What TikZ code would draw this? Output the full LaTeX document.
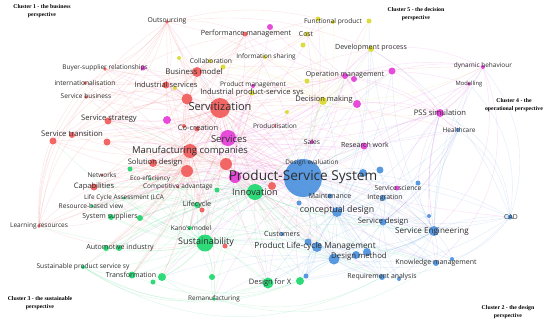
\documentclass[tikz,border=0pt]{standalone}
\usepackage{fontspec}
\setmainfont{Open Sans}
\newfontfamily\ttlfont{Liberation Serif}
\pgfdeclarelayer{paper}
\pgfdeclarelayer{edgelayer}
\pgfsetlayers{paper,edgelayer,main}
\definecolor{cR}{RGB}{242,90,90}
\definecolor{cB}{RGB}{75,145,222}
\definecolor{cG}{RGB}{30,215,110}
\definecolor{cY}{RGB}{218,218,45}
\definecolor{cM}{RGB}{228,60,215}
\definecolor{txt}{RGB}{45,45,45}
\newcommand{\vn}[5]{\node[vnode,fill=#5,minimum size={2*#4pt}] (#1) at (#2,#3) {};}
\newcommand{\lb}[5]{\node[lbl,font=\fontsize{#4}{#4}\selectfont] (#1) at (#2,#3) {#5};}
\tikzset{
  vnode/.style={circle,inner sep=0pt,draw=none,fill opacity=0.92},
  lbl/.style={inner sep=0pt,text=txt,anchor=center},
  ttl/.style={inner sep=0pt,align=center,text=black,font=\ttlfont\bfseries\fontsize{5.8}{8}\selectfont},
  ew/.style={line width=0.4pt,draw opacity=0.17},
  eR/.style={ew,draw=cR},
  eB/.style={ew,draw=cB},
  eG/.style={ew,draw=cG},
  eY/.style={ew,draw=cY},
  eM/.style={ew,draw=cM},
}
\begin{document}
\begin{tikzpicture}[x=1pt,y=-1pt]
\begin{pgfonlayer}{paper}
\fill[white] (0,0) rectangle (550,325);
\end{pgfonlayer}
\useasboundingbox (0,0) rectangle (550,325);
% ---------------- red cluster
\vn{outs}{167}{22}{1.8}{cR}
\vn{perf}{245}{34}{2.5}{cR}
\vn{bsr}{105}{69}{1.8}{cR}
\vn{bm}{197}{72}{5}{cR}
\vn{intl}{85}{83}{1.8}{cR}
\vn{inds}{166}{85}{3.5}{cR}
\vn{sb}{86}{97}{1.8}{cR}
\vn{ra}{187}{99}{5.5}{cR}
\vn{servit}{220}{108}{10}{cR}
\vn{ss}{108}{121}{3.5}{cR}
\vn{cocr}{197}{129}{2.5}{cR}
\vn{rb}{184}{126}{2}{cR}
\vn{sta}{53}{141}{3.5}{cR}
\vn{stb}{72}{135}{3}{cR}
\vn{stc}{107}{142}{3.5}{cR}
\vn{manu}{190}{151}{7}{cR}
\vn{sold}{153}{163}{4}{cR}
\vn{rc}{226}{164}{6}{cR}
\vn{rd}{187}{171}{6}{cR}
\vn{cap}{94}{187}{3.5}{cR}
\vn{comp}{178}{187}{1.5}{cR}
\vn{re}{272}{186}{4}{cR}
\vn{lr}{39}{226}{1.8}{cR}
\vn{rf}{202}{210}{2.5}{cR}
\vn{rg}{225}{246}{2.5}{cR}
\vn{prod}{275}{126}{1.5}{cR}
\vn{netw}{102}{175}{1.5}{cR}
% ---------------- magenta cluster
\vn{ma}{270}{27}{3}{cM}
\vn{mb}{143}{68}{2.5}{cM}
\vn{pm}{253}{86}{2}{cM}
\vn{mc}{167}{120}{4}{cM}
\vn{serv}{228}{138}{8}{cM}
\vn{md}{235}{177}{6}{cM}
\vn{oma}{345}{76}{3}{cM}
\vn{omb}{354}{79}{3}{cM}
\vn{omc}{392}{71}{3.5}{cM}
\vn{me}{357}{104}{4}{cM}
\vn{dyn}{483}{67}{2}{cM}
\vn{mod}{469}{84}{1.8}{cM}
\vn{psim}{440}{113}{4}{cM}
\vn{sales}{312}{142}{2}{cM}
\vn{rw}{364}{146}{3.5}{cM}
\vn{sci}{397}{188}{2.5}{cM}
% ---------------- yellow cluster
\vn{fpa}{318}{19}{2.5}{cY}
\vn{fpb}{333}{22}{2}{cY}
\vn{fpc}{369}{21}{2.5}{cY}
\vn{cost}{307}{34}{2.5}{cY}
\vn{ya}{303}{45}{2.5}{cY}
\vn{dev}{371}{49}{3}{cY}
\vn{cola}{179}{58}{2}{cY}
\vn{colb}{210}{61}{2}{cY}
\vn{colc}{223}{67}{2.5}{cY}
\vn{info}{265}{57}{2}{cY}
\vn{ipss}{252}{93}{2.5}{cY}
\vn{yb}{175}{88}{2}{cY}
\vn{yc}{307}{81}{2.5}{cY}
\vn{decm}{323}{101}{4}{cY}
\vn{yd}{287}{112}{2}{cY}
\vn{ye}{310}{163}{1.5}{cY}
% ---------------- blue cluster
\vn{pss}{303}{178}{19}{cB}
\vn{ba}{363}{173}{4}{cB}
\vn{bb}{380}{170}{3.5}{cB}
\vn{bc}{418}{183}{2.5}{cB}
\vn{maint}{330}{196}{2.5}{cB}
\vn{integ}{383}{198}{3}{cB}
\vn{bd}{299}{203}{2.5}{cB}
\vn{cd}{337}{212}{5}{cB}
\vn{sd}{383}{222}{3.5}{cB}
\vn{be}{429}{216}{2}{cB}
\vn{se}{434}{231}{5}{cB}
\vn{hc}{458}{130}{2}{cB}
\vn{cad}{510}{217}{2.5}{cB}
\vn{cust}{282}{234}{2}{cB}
\vn{plm}{317}{247}{5}{cB}
\vn{bf}{308}{242}{3.5}{cB}
\vn{dmt}{334}{259}{5.5}{cB}
\vn{dmb}{356}{255}{4}{cB}
\vn{dmc}{367}{252}{4}{cB}
\vn{km}{436}{263}{3}{cB}
\vn{bgx}{452}{259}{2}{cB}
\vn{req}{382}{277}{3}{cB}
\vn{bh}{399}{279}{2}{cB}
\vn{bi}{306}{276}{2.5}{cB}
% ---------------- green cluster
\vn{innov}{255}{192}{8}{cG}
\vn{ga}{217}{190}{2.5}{cG}
\vn{gb}{130}{169}{2.5}{cG}
\vn{eco}{150}{179}{1.5}{cG}
\vn{lca}{124}{198}{1.5}{cG}
\vn{rbv}{92}{206}{1.8}{cG}
\vn{life}{197}{205}{3}{cG}
\vn{sysa}{111}{217}{3}{cG}
\vn{sysb}{140}{218}{3}{cG}
\vn{kano}{190}{228}{2}{cG}
\vn{sust}{205}{243}{8.5}{cG}
\vn{auta}{106}{248}{3}{cG}
\vn{autb}{119}{248}{3}{cG}
\vn{spss}{83}{267}{2}{cG}
\vn{tra}{132}{275}{3.5}{cG}
\vn{trb}{162}{277}{4}{cG}
\vn{trc}{153}{282}{2.5}{cG}
\vn{gc}{212}{277}{3}{cG}
\vn{rem}{214}{299}{1.8}{cG}
\vn{dfx}{268}{283}{5.5}{cG}
\vn{gd}{300}{281}{4}{cG}
% ---------------- edges
\begin{pgfonlayer}{edgelayer}
\foreach \t in {cd,plm,dmt,dmb,dmc,se,sd,integ,maint,cust,ba,bb,bc,sci,rw,sales,km,req,bh,cad,bi,bd,bf,hc,psim,omc,decm,dev,be,bgx}
  \draw[eB] (pss) to[bend left=10] (\t);
\foreach \t in {innov,sust,dfx,gd,servit,serv,manu,rc,rd,bm,inds,ipss,cost,fpa,life,kano,lca,rbv,sold,cap,stc,ss,perf,mod,dyn,trb,rem,autb,sysb,eco,comp,oma,me,md,re}
  \draw[eM] (pss) to[bend right=9] (\t);
\foreach \t in {bm,inds,intl,sb,bsr,outs,perf,ss,sta,stb,stc,manu,sold,cap,cocr,ra,rb,rc,rd,serv,prod,ipss,cola,colc,info,pm,oma,decm,sales,rw,innov,sust,life,lr,netw,comp,lca,rbv,sysa,auta,tra,cd,plm,dmt,se,psim,dyn,fpb,cost,dev,hc,mc,md,re}
  \draw[eR] (servit) to[bend left=9] (\t);
\foreach \t in {bm,inds,perf,ma,pm,oma,omb,omc,decm,psim,dyn,mod,sales,rw,sci,cd,se,sd,plm,manu,innov,sust,ss,stb,cap,sold,bsr,mb,intl,outs,dev,fpa,km,req,dfx,cad,hc,life,kano,md,mc}
  \draw[eM] (serv) to[bend right=10] (\t);
\foreach \t in {bm,inds,intl,sb,bsr,outs,ss,sta,stb,stc,sold,cap,netw,comp,eco,lca,rbv,lr,sysa,sysb,auta,autb,spss,tra,trb,innov,sust,life,kano,rc,rd,cd,plm,dmt,se,dfx,rem,perf,decm,oma,rw,cust,gb,ra}
  \draw[eR] (manu) to[bend left=11] (\t);
\foreach \t in {sust,life,kano,dfx,gd,rem,tra,trb,trc,gc,auta,autb,sysa,sysb,spss,rbv,lca,eco,comp,cap,sold,cd,plm,dmt,dmb,se,sd,maint,cust,bi,req,km,decm,rw,sales,oma,bm,ss,gb,ga,md,re}
  \draw[eG] (innov) to[bend right=10] (\t);
\foreach \t in {life,kano,tra,trb,trc,gc,rem,dfx,gd,auta,autb,sysa,sysb,spss,rbv,lca,eco,gb,comp,cap,cust,plm,dmt,req,km,cd,se,lr,sta,netw,ga,rf,rg}
  \draw[eG] (sust) to[bend left=10] (\t);
\foreach \t in {plm,dmt,dmb,dmc,se,sd,integ,maint,km,req,bh,cad,be,ba,bb,bc,sci,rw,psim,hc,dfx,gd,bi,cust,decm,omc,dev,fpc,sales,re,bf}
  \draw[eB] (cd) to[bend right=10] (\t);
\foreach \t in {sd,km,bgx,req,bh,cad,be,hc,psim,bc,sci,integ,dmt,dmb,dmc,plm,dfx,gd,rw,dyn,mod,omc,dev}
  \draw[eB] (se) to[bend left=12] (\t);
\foreach \t in {outs,perf,ma,bsr,mb,intl,sb,inds,cola,colb,colc,info,pm,ipss,cost,fpa,yb,ss,stb,ra,mc,oma,decm}
  \draw[eR] (bm) to[bend left=10] (\t);
\foreach \t in {cost,ya,fpa,fpb,fpc,dev,info,colb,colc,ipss,pm,yc,oma,omb,omc,me,yd,sales,rw,psim,dyn,prod,ye}
  \draw[eY] (decm) to[bend right=12] (\t);
\foreach \t in {omb,omc,me,dev,psim,dyn,mod,rw,sales,sci,hc,ma,perf,yc,cost,fpc,pm}
  \draw[eM] (oma) to[bend left=12] (\t);
\foreach \t in {dyn,mod,hc,me,omc,rw,sci,bc,se,km,dev}
  \draw[eM] (psim) to[bend right=12] (\t);
\foreach \t in {dmt,dmb,dmc,cust,bf,bi,req,km,gd,dfx,sd}
  \draw[eB] (plm) to[bend left=12] (\t);
\foreach \t in {intl,sb,bsr,ss,sta,stb,ra,inds,perf,fpb,dev,decm}
  \draw[eR] (outs) to[bend left=14] (\t);
% extra hubs for the dense haze
\foreach \t in {ss,stb,stc,sold,cap,netw,comp,eco,lca,life,kano,innov,sust,md,re,cd,plm,cust,bm,inds,cocr,prod,sales,rw,decm,ipss,pm,gb,ga,rf}
  \draw[eR] (rc) to[bend right=12] (\t);
\foreach \t in {ss,sta,stc,sold,cap,netw,comp,eco,lca,rbv,life,kano,sust,sysa,sysb,auta,tra,trb,gb,innov,bm,inds,ra,cocr,rf}
  \draw[eR] (rd) to[bend left=12] (\t);
\foreach \t in {intl,sb,bsr,ss,stb,inds,bm,cola,yb,mb,mc,cocr,rb,pm,ipss,colc,perf}
  \draw[eR] (ra) to[bend right=12] (\t);
\foreach \t in {sales,prod,rw,decm,me,re,ga,life,kano,cust,cd,maint,bd,plm,sust,dfx,ipss,pm,rc,ye}
  \draw[eM] (md) to[bend left=12] (\t);
\foreach \t in {req,km,bh,bi,gd,dfx,cust,bf,dmb,dmc,sd,integ,maint,bd,sust,trb,gc,kano,rem}
  \draw[eB] (dmt) to[bend right=12] (\t);
\foreach \t in {kano,rf,ga,comp,eco,lca,rbv,sysa,sysb,autb,tra,gc,dfx,cust,bd,sold,cap}
  \draw[eG] (life) to[bend right=12] (\t);
\foreach \t in {integ,sci,ba,bb,bc,be,km,bgx,req,bh,hc,maint,dmc,psim}
  \draw[eB] (sd) to[bend right=12] (\t);
% long arcs
\draw[eB] (cad) to[bend right=30] (psim);
\draw[eB] (cad) to[bend right=22] (hc);
\draw[eB] (cad) to[bend right=28] (dyn);
\draw[eB] (cad) to[bend right=25] (mod);
\draw[eB] (cad) to[bend right=18] (dev);
\draw[eB] (cad) to[bend right=10] (bc);
\draw[eB] (cad) to[bend left=20] (km);
\draw[eB] (cad) to[bend left=22] (req);
\draw[eB] (cad) to[bend left=20] (dmt);
\draw[eB] (cad) to[bend left=12] (sd);
\draw[eM] (dyn) to[bend left=30] (se);
\draw[eM] (dyn) to[bend left=35] (km);
\draw[eM] (dyn) to[bend right=15] (dev);
\draw[eM] (dyn) to[bend right=10] (omc);
\draw[eM] (mod) to[bend left=20] (sd);
\draw[eB] (hc) to[bend left=20] (sd);
\draw[eB] (hc) to[bend left=15] (integ);
\draw[eR] (lr) to[bend left=14] (ss);
\draw[eR] (lr) to[bend left=10] (sta);
\draw[eR] (lr) to[bend left=12] (stb);
\draw[eR] (lr) to[bend left=18] (sb);
\draw[eR] (lr) to[bend left=20] (intl);
\draw[eR] (lr) to[bend left=22] (bsr);
\draw[eR] (lr) to[bend left=24] (outs);
\draw[eR] (lr) to[bend left=8] (cap);
\draw[eR] (lr) to[bend right=10] (sysa);
\draw[eR] (lr) to[bend right=10] (rbv);
\draw[eR] (lr) to[bend right=15] (sust);
\draw[eG] (spss) to[bend right=20] (rem);
\draw[eG] (spss) to[bend right=25] (dfx);
\draw[eG] (spss) to[bend right=25] (gd);
\draw[eG] (spss) to[bend right=30] (req);
\draw[eG] (spss) to[bend right=10] (tra);
\draw[eG] (tra) to[bend right=20] (dfx);
\draw[eG] (trb) to[bend right=20] (gd);
\draw[eG] (rem) to[bend right=20] (req);
\draw[eG] (rem) to[bend right=25] (km);
\draw[eG] (rem) to[bend right=15] (dmt);
\draw[eG] (rem) to[bend left=10] (gc);
\draw[eG] (rem) to[bend left=15] (trb);
\draw[eR] (sta) to[bend left=20] (perf);
\draw[eR] (stb) to[bend left=15] (bm);
\draw[eR] (ss) to[bend left=10] (inds);
\draw[eR] (cap) to[bend left=12] (servit);
\end{pgfonlayer}
% ---------------- labels
\lb{tOuts}{167}{21}{6.8}{Outsourcing}
\lb{tPerf}{246}{34}{7.2}{Performance management}
\lb{tColl}{211}{61}{6.7}{Collaboration}
\lb{tInfo}{266}{57}{6.4}{Information sharing}
\lb{tBsr}{105}{68}{6.5}{Buyer-supplier relationships}
\lb{tBm}{194}{72}{7.8}{Business model}
\lb{tIntl}{85}{83}{6.7}{internationalisation}
\lb{tInds}{166}{85}{7.5}{Industrial services}
\lb{tPm}{253}{85}{6.5}{Product management}
\lb{tIpss}{252}{93}{7.6}{Industrial product-service sys}
\lb{tSb}{86}{96}{6.6}{Service business}
\lb{tServit}{220}{107}{11}{Servitization}
\lb{tSs}{109}{119}{7.6}{Service strategy}
\lb{tCocr}{198}{128}{7.5}{Co-creation}
\lb{tSt}{72}{134}{7.7}{Service transition}
\lb{tServ}{229}{139}{9.5}{Services}
\lb{tManu}{190}{151}{9.5}{Manufacturing companies}
\lb{tProd}{275}{126}{6.5}{Productisation}
\lb{tSold}{155}{163}{7.6}{Solution design}
\lb{tNetw}{102}{175}{6.5}{Networks}
\lb{tEco}{150}{179}{6.3}{Eco-efficiency}
\lb{tCap}{94}{187}{7.5}{Capabilities}
\lb{tComp}{178}{187}{6.5}{Competitive advantage}
\lb{tLca}{124}{198}{6.4}{Life Cycle Assessment (LCA}
\lb{tInnov}{255}{192}{9.2}{Innovation}
\lb{tRbv}{91}{206}{6.6}{Resource-based view}
\lb{tLife}{197}{205}{7.2}{Lifecycle}
\lb{tSys}{110}{217}{7}{System suppliers}
\lb{tLr}{39}{226}{6.5}{Learning resources}
\lb{tKano}{191}{228}{6.5}{Kano's model}
\lb{tSust}{206}{242}{9}{Sustainability}
\lb{tAuto}{120}{248}{7.1}{Automotive industry}
\lb{tSpss}{83}{267}{6.6}{Sustainable product service sy}
\lb{tTr}{131}{275}{7}{Transformation}
\lb{tRem}{214}{299}{6.4}{Remanufacturing}
\lb{tDfx}{270}{283}{7.5}{Design for X}
\lb{tFp}{333}{22}{6.6}{Functional product}
\lb{tCost}{306}{34}{6.8}{Cost}
\lb{tDev}{371}{48}{7.1}{Development process}
\lb{tOm}{345}{75}{7}{Operation management}
\lb{tDecm}{324}{100}{7.5}{Decision making}
\lb{tDyn}{483}{66}{6.5}{dynamic behaviour}
\lb{tMod}{469}{84}{5.8}{Modelling}
\lb{tPsim}{440}{113}{7.6}{PSS simulation}
\lb{tHc}{459}{130}{6.5}{Healthcare}
\lb{tSales}{312}{142}{6.7}{Sales}
\lb{tRw}{365}{145}{7}{Research work}
\lb{tDeval}{312}{163}{6.4}{Design evaluation}
\lb{tPss}{303}{177}{13.6}{Product-Service System}
\lb{tSci}{398}{188}{6.7}{Service science}
\lb{tMaint}{330}{196}{7}{Maintenance}
\lb{tInteg}{385}{198}{6.9}{Integration}
\lb{tCd}{337}{210}{8.8}{conceptual design}
\lb{tSd}{383}{222}{7.6}{Service design}
\lb{tSe}{432}{231}{8.1}{Service Engineering}
\lb{tCad}{511}{217}{6.8}{CAD}
\lb{tCust}{282}{234}{7.1}{Customers}
\lb{tPlm}{315}{246}{8.3}{Product Life-cycle Management}
\lb{tDm}{359}{256}{7.8}{Design method}
\lb{tKm}{436}{263}{7}{Knowledge management}
\lb{tReq}{382}{277}{6.9}{Requirement analysis}
% ---------------- cluster titles
\node[ttl] (c1) at (42,11) {Cluster 1 - the business\\perspective};
\node[ttl] (c5) at (416,14) {Cluster 5 - the decision\\perspective};
\node[ttl] (c4) at (514,105) {Cluster 4 - the\\operational perspective};
\node[ttl] (c3) at (40,303) {Cluster 3 - the sustainable\\perspective};
\node[ttl] (c2) at (508,312.5) {Cluster 2 - the design\\perspective};
\end{tikzpicture}
\end{document}
